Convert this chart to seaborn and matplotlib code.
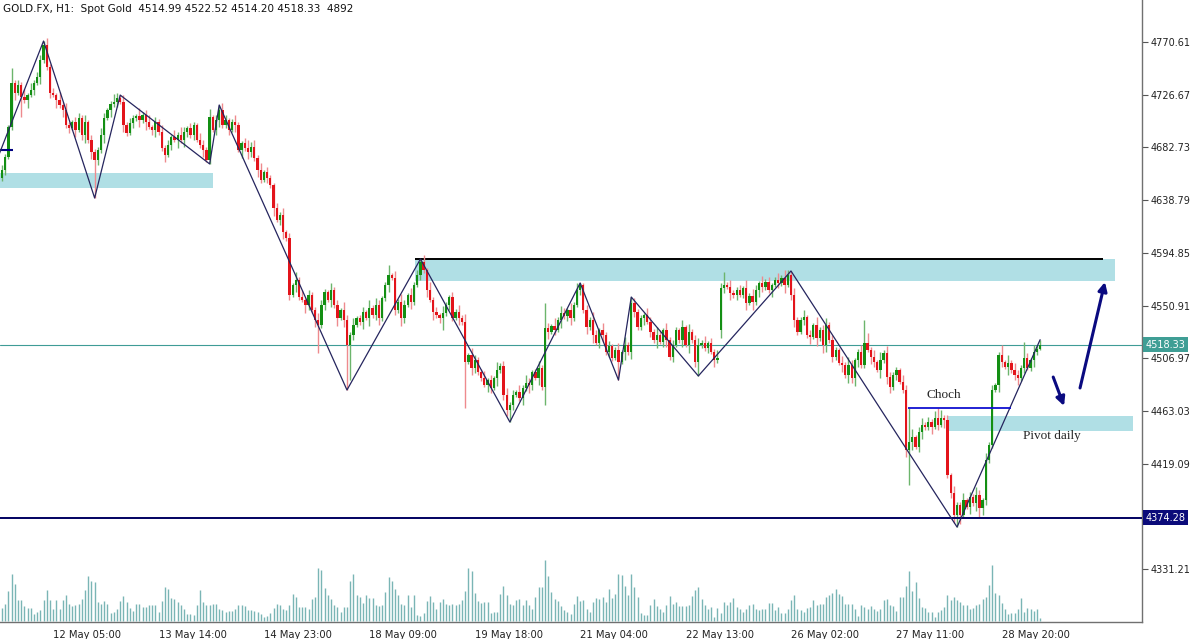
import numpy as np
import matplotlib
matplotlib.use("Agg")
import matplotlib.pyplot as plt
import matplotlib.transforms as mtransforms
import seaborn as sns

# GOLD.FX H1 candles (price units)
first_open = 4657.3
closes = [
    4664.0, 4674.8, 4699.8, 4736.4, 4728.1, 4734.8, 4724.8, 4722.3, 4726.4, 4730.6,
    4736.4, 4741.4, 4755.6, 4768.1, 4749.8, 4728.1, 4726.4, 4722.3, 4718.1, 4713.9,
    4701.4, 4698.9, 4703.9, 4697.3, 4707.3, 4693.1, 4703.9, 4688.9, 4678.9, 4672.3,
    4680.6, 4693.1, 4707.3, 4713.9, 4718.9, 4720.6, 4723.9, 4720.6, 4701.4, 4694.8,
    4703.1, 4707.3, 4708.9, 4705.6, 4709.8, 4703.9, 4699.8, 4697.3, 4703.9, 4695.6,
    4682.3, 4676.4, 4684.8, 4691.4, 4688.9, 4693.1, 4688.9, 4695.6, 4698.9, 4693.1,
    4701.4, 4688.9, 4684.8, 4680.6, 4672.3, 4708.1, 4697.3, 4705.6, 4713.9, 4701.4,
    4705.6, 4697.3, 4703.9, 4701.4, 4680.6, 4686.4, 4682.3, 4678.9, 4683.1, 4673.9,
    4664.0, 4655.6, 4662.3, 4657.3, 4651.4, 4632.3, 4622.3, 4626.4, 4612.3, 4607.3,
    4559.8, 4568.1, 4572.3, 4558.1, 4555.6, 4551.4, 4559.8, 4547.3, 4538.9, 4534.8,
    4551.4, 4562.3, 4555.6, 4563.9, 4551.4, 4540.6, 4547.3, 4538.9, 4518.1, 4526.4,
    4534.8, 4540.6, 4537.3, 4545.6, 4540.6, 4548.9, 4543.1, 4551.4, 4540.6, 4557.3,
    4568.1, 4576.4, 4573.9, 4547.3, 4553.9, 4540.6, 4551.4, 4559.8, 4553.9, 4568.1,
    4576.4, 4587.3, 4580.6, 4563.9, 4555.6, 4545.6, 4543.1, 4540.6, 4544.8, 4551.4,
    4558.1, 4540.6, 4545.6, 4540.6, 4537.3, 4503.9, 4509.8, 4498.9, 4505.6, 4495.6,
    4490.6, 4484.8, 4488.9, 4482.3, 4490.6, 4497.3, 4500.6, 4476.4, 4463.9, 4468.1,
    4476.4, 4478.9, 4473.9, 4482.3, 4486.4, 4484.8, 4495.6, 4490.6, 4498.9, 4483.1,
    4532.3, 4528.9, 4533.9, 4530.6, 4538.9, 4544.8, 4542.3, 4547.3, 4540.6, 4551.4,
    4563.9, 4568.1, 4547.3, 4533.1, 4538.9, 4526.4, 4519.8, 4530.6, 4526.4, 4512.3,
    4517.3, 4507.3, 4513.9, 4503.9, 4512.3, 4518.1, 4512.3, 4553.1, 4545.6, 4533.1,
    4540.6, 4543.1, 4537.3, 4528.9, 4522.3, 4526.4, 4520.6, 4530.6, 4522.3, 4508.1,
    4518.1, 4530.6, 4522.3, 4533.1, 4518.1, 4528.9, 4522.3, 4503.9, 4518.1, 4519.8,
    4515.6, 4519.8, 4512.3, 4505.6, 4507.3, 4565.6, 4568.1, 4566.4, 4561.4, 4559.8,
    4563.9, 4559.8, 4565.6, 4553.1, 4558.9, 4553.9, 4563.9, 4569.8, 4566.4, 4570.6,
    4563.9, 4568.1, 4572.3, 4569.8, 4573.9, 4568.1, 4576.4, 4559.8, 4538.9, 4528.9,
    4538.9, 4541.4, 4526.4, 4524.8, 4534.8, 4523.9, 4530.6, 4518.1, 4534.8, 4522.3,
    4508.1, 4513.9, 4503.1, 4501.4, 4493.1, 4501.4, 4490.6, 4505.6, 4512.3, 4501.4,
    4519.8, 4513.9, 4508.1, 4503.9, 4497.3, 4505.6, 4511.4, 4491.4, 4483.1, 4493.1,
    4497.3, 4487.3, 4480.6, 4430.6, 4437.3, 4441.4, 4433.1, 4445.6, 4451.4, 4449.8,
    4453.9, 4449.8, 4457.3, 4451.4, 4457.3, 4455.6, 4409.8, 4394.8, 4376.4, 4384.8,
    4376.4, 4389.0, 4383.1, 4391.4, 4386.4, 4393.1, 4382.3, 4389.0, 4422.3, 4434.8,
    4480.6, 4484.8, 4509.8, 4503.9, 4499.8, 4503.1, 4497.3, 4493.1, 4490.6, 4498.9,
    4507.3, 4498.9, 4505.6, 4512.3, 4514.99, 4518.33,
]
gap_opens = {225: 4530.6}

# typical wick lengths (price units), one digit per candle
upper_wick = ("3214232514 2331423152 4213324132 2431253142 3215234132 4231425313 "
              "2143251324 3124213534 2413213241 3152413224 3214231532 4123152431 "
              "2314253142 3241523142 1324251432 2413152342 3142531242 2315243142 "
              "4213253142 3124152432 2143253142 3214152342 4132531242 2315243142 "
              "3124253142 2413152342 3214253124 1324152432 2143251342 3241523142 "
              "2413253142 3124152432 231425")
lower_wick = ("2312413251 3142231524 2314135241 3251423142 1324251342 2413152432 "
              "3124251342 2314152432 4213251342 3142153242 2314251432 3124152342 "
              "2413253142 1324152342 3214251432 2143152342 3124253142 2413152342 "
              "1324251342 3214152432 2413251342 3124152342 2314253142 3124152432 "
              "2413251342 1324152342 3214253142 2143152432 3124251342 2413152342 "
              "3214251432 2143152342 312425")

# long wicks
high_marks = {3: 4748.9, 13: 4771.4, 37: 4726.4, 68: 4718.1, 74: 4703.9, 121: 4584.8,
              131: 4589.8, 170: 4553.1, 181: 4569.8, 197: 4558.1, 226: 4578.9,
              247: 4579.8, 270: 4538.9, 271: 4528.1, 284: 4465.6, 293: 4465.6,
              313: 4518.1, 320: 4520.6, 325: 4522.52}
low_marks = {6: 4708.1, 29: 4640.6, 64: 4670.5, 65: 4669.0, 99: 4511.4, 108: 4480.6,
             109: 4488.9, 138: 4530.6, 145: 4465.6, 158: 4459.0, 159: 4453.9,
             170: 4468.1, 193: 4488.9, 218: 4492.3, 257: 4511.4, 267: 4483.9,
             278: 4478.1, 284: 4401.4, 298: 4370.0, 299: 4366.4, 300: 4369.0,
             306: 4374.8, 325: 4514.20}

volume = [
    40, 50, 89, 142, 110, 64, 62, 45, 39, 40,
    19, 25, 32, 62, 92, 62, 37, 62, 35, 62,
    77, 52, 45, 47, 52, 65, 92, 137, 122, 119,
    57, 52, 59, 52, 22, 27, 37, 59, 75, 57,
    40, 29, 52, 52, 42, 42, 47, 47, 47, 27,
    59, 101, 97, 69, 65, 57, 47, 37, 19, 19,
    17, 49, 92, 57, 49, 49, 51, 51, 37, 33,
    27, 29, 29, 35, 47, 49, 45, 32, 31, 29,
    25, 19, 12, 15, 22, 39, 52, 47, 35, 32,
    47, 82, 72, 42, 42, 42, 37, 67, 72, 160,
    155, 99, 77, 67, 47, 42, 25, 42, 42, 122,
    142, 79, 72, 55, 77, 69, 69, 49, 44, 49,
    87, 132, 122, 97, 77, 52, 47, 77, 42, 77,
    17, 14, 22, 59, 75, 57, 35, 57, 65, 52,
    49, 50, 49, 52, 62, 89, 160, 152, 85, 59,
    55, 57, 57, 22, 25, 25, 82, 105, 77, 52,
    47, 62, 65, 49, 62, 47, 37, 72, 102, 102,
    185, 135, 87, 67, 59, 45, 32, 27, 19, 52,
    75, 59,
    62, 37, 27, 57, 69, 67, 72, 57, 97, 69,
    82, 142, 139, 105, 79, 142, 102, 72, 22, 17,
    17, 47, 67, 45, 35, 25, 47, 75, 52, 57,
    45, 45, 45, 47, 75, 92, 102, 67, 47, 37,
    42, 12, 39, 22, 57, 49, 57, 69, 42, 35,
    27, 37, 49, 52, 35, 32, 35, 35, 54, 54,
    32, 42, 22, 22, 37, 62, 79, 37, 32, 25,
    39, 42, 62, 49, 52, 52, 72, 77, 85, 97,
    82, 75, 52, 52, 52, 37, 15, 47, 42, 37,
    45, 35, 29, 35, 62, 67, 47, 45, 29, 72,
    72, 105, 152, 89, 119, 69, 42, 39, 27, 25,
    12, 25, 32, 42, 79, 62, 72, 62, 57, 49,
    47, 37, 39, 49, 52, 67, 72, 109, 169, 85,
    79, 55, 35, 19, 22, 22, 37, 69, 27, 39,
    35, 29, 37, 7,
]

zz_idx = [-1, 13, 29, 37, 65, 68, 108, 131, 159, 181, 193, 197, 218, 247, 299, 325]
zz_price = [4676.4, 4771.4, 4640.6, 4726.4, 4669.0, 4718.1, 4480.6, 4589.8, 4453.9,
            4569.8, 4488.9, 4558.1, 4492.3, 4579.8, 4366.4, 4522.52]

tick_pos = [16, 49, 82, 115, 148, 181, 214, 247, 280, 313]
tick_labels = ["12 May 05:00", "13 May 14:00", "14 May 23:00", "18 May 09:00",
               "19 May 18:00", "21 May 04:00", "22 May 13:00", "26 May 02:00",
               "27 May 11:00", "28 May 20:00"]
price_ticks = [4770.61, 4726.67, 4682.73, 4638.79, 4594.85, 4550.91, 4506.97,
               4463.03, 4419.09, 4331.21]

last_price = 4518.33
support = 4374.28
choch = 4465.6

# ---------------------------------------------------------------
closes = np.array(closes)
n = len(closes)
x = np.arange(n)
opens = np.r_[first_open, closes[:-1]]
for i, v in gap_opens.items():
    opens[i] = v
up = np.array([int(c) for c in upper_wick.replace(" ", "")], dtype=float)
dn = np.array([int(c) for c in lower_wick.replace(" ", "")], dtype=float)
assert len(up) == n and len(dn) == n and len(volume) == n, (len(up), len(dn), len(volume), n)
highs = np.maximum(opens, closes) + up * 1.4
lows = np.minimum(opens, closes) - dn * 1.4
for i, v in high_marks.items():
    highs[i] = v
for i, v in low_marks.items():
    lows[i] = v

sns.set_style("white")
plt.rcParams["font.family"] = ["DejaVu Sans"]

fig = plt.figure(figsize=(12, 6.39), dpi=100)
ax = fig.add_axes([0, 17 / 639, 1142 / 1200, 622 / 639])

# zones
ax.fill_between([-1, 66.1], 4648.9, 4661.4, color="#b0dfe5", lw=0, zorder=1)
ax.fill_between([129.3, 348.5], 4571.4, 4589.8, color="#b0dfe5", lw=0, zorder=1)
ax.fill_between([295.9, 354.1], 4446.4, 4458.9, color="#b0dfe5", lw=0, zorder=1)
ax.hlines(4589.8, 129.3, 344.7, color="black", lw=1.4, zorder=2)
ax.hlines(4680.6, -1, 3.4, color="#000080", lw=1.5, zorder=4)

ax.axhline(last_price, color="#3f9c96", lw=0.8, zorder=1)
ax.axhline(support, color="#000060", lw=1.4, zorder=4)

# candles
bull = closes >= opens
body_col = np.where(bull, "#138f13", "#e3141b")
wick_col = np.where(bull, "#6cb56c", "#ee8a8e")
ax.vlines(x, lows, highs, colors=wick_col, lw=1, zorder=3)
body_h = np.maximum(np.abs(closes - opens), 0.6)
ax.bar(x, body_h, bottom=np.minimum(opens, closes), width=0.72,
       color=body_col, lw=0, zorder=3)

# zigzag
sns.lineplot(x=zz_idx, y=zz_price, ax=ax, color="#25255e", lw=0.9, sort=False,
             estimator=None, zorder=5)

# choch
ax.hlines(choch, 283.7, 315.9, color="#1010d0", lw=1.3, zorder=5)
ax.text(294.8, 4476.4, "Choch", family="Liberation Serif", fontsize=9.5,
        ha="center", va="center", zorder=6)
ax.text(328.8, 4442.3, "Pivot daily", family="Liberation Serif", fontsize=9.5,
        ha="center", va="center", zorder=6)

arrow = dict(arrowstyle="-|>", color="#0a0a80", lw=2.2, mutation_scale=13,
             shrinkA=0, shrinkB=0)
ax.annotate("", xy=(332.5, 4467.3), xytext=(329.1, 4491.4), arrowprops=arrow, zorder=6)
ax.annotate("", xy=(345.3, 4570.6), xytext=(337.5, 4482.3), arrowprops=arrow, zorder=6)

ax.set_xlim(-0.63, 356.9)
ax.set_ylim(4805.61 - 622 / 1.2, 4805.61)

# volume at the bottom
ax2 = ax.twinx()
ax2.vlines(x, 0, volume, colors="#7ab5b5", lw=1)
ax2.set_ylim(-4, 185 * 622 / 61)
ax2.set_yticks([])
for s in ax2.spines.values():
    s.set_visible(False)
ax2.patch.set_visible(False)

for s in ["top", "left"]:
    ax.spines[s].set_visible(False)
for s in ["right", "bottom"]:
    ax.spines[s].set_color("#707070")
    ax.spines[s].set_linewidth(1)

ax.yaxis.tick_right()
ax.set_yticks(price_ticks)
ax.set_yticklabels([f"{p:.2f}" for p in price_ticks])
ax.set_xticks(tick_pos)
ax.set_xticklabels(tick_labels)
ax.tick_params(axis="y", direction="out", length=4, width=0.8, color="#555555",
               pad=2, labelsize=7, labelcolor="#222222")
ax.tick_params(axis="x", direction="out", length=4, width=0.8, color="#555555",
               pad=2, labelsize=7.2, labelcolor="#222222")
plt.setp(ax.get_xticklabels(), ha="left")

lbl = mtransforms.blended_transform_factory(ax.transAxes, ax.transData)
ax.text(1.003, last_price, f"{last_price:.2f}", transform=lbl, ha="left", va="center",
        color="white", fontsize=7, zorder=7,
        bbox=dict(boxstyle="square,pad=0.25", fc="#3f9e95", ec="none"))
ax.text(1.003, support, f"{support:.2f}", transform=lbl, ha="left", va="center",
        color="white", fontsize=7, zorder=7,
        bbox=dict(boxstyle="square,pad=0.25", fc="#0b0b7a", ec="none"))

fig.text(3 / 1200, 1 - 9 / 639,
         "GOLD.FX, H1:  Spot Gold  4514.99 4522.52 4514.20 4518.33  4892",
         fontsize=7.5, va="center", ha="left", color="#111111")

fig.savefig("out.png", dpi=100)
